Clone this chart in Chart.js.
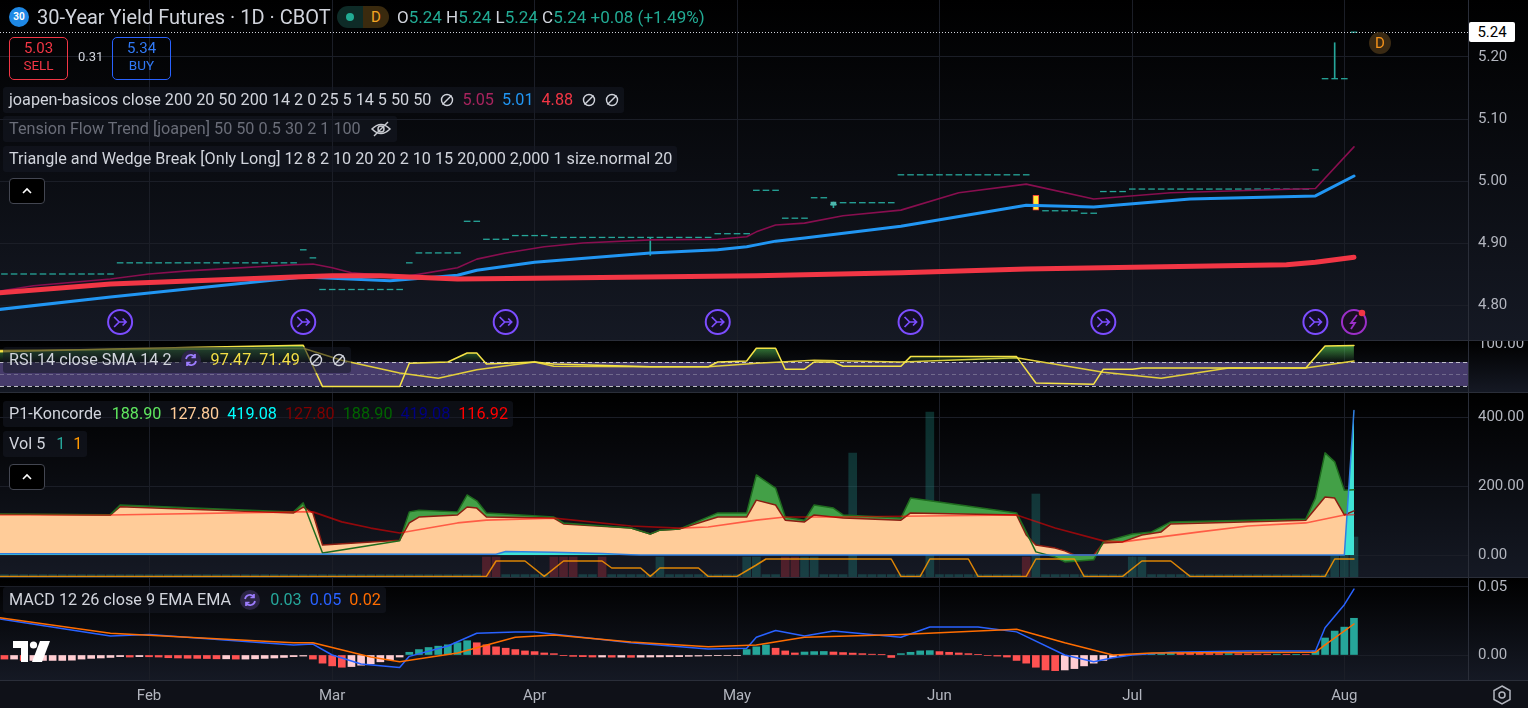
<!DOCTYPE html>
<html>
<head>
<meta charset="utf-8">
<title>30-Year Yield Futures · 1D · CBOT</title>
<script src="https://cdn.jsdelivr.net/npm/chart.js@4.4.1/dist/chart.umd.min.js"></script>
<style>
  html, body { margin: 0; padding: 0; background: #000; overflow: hidden; }
  #app { position: relative; width: 1528px; height: 708px; font-family: Roboto, "Noto Sans", sans-serif; color: #d1d4dc; }
  #app canvas { position: absolute; left: 0; }
  .sep { position: absolute; left: 0; width: 1528px; height: 1px; background: #2a2e39; }
  .abs { position: absolute; white-space: nowrap; }
  .leg { position: absolute; left: 3px; height: 26px; line-height: 26px; padding: 0 5px 0 6px; white-space: nowrap;
         font-size: 16.2px; background: rgba(22,26,37,0.55); border-radius: 3px; display: flex; align-items: center; }
  .leg span { margin-left: 8px; }
  .leg span:first-child { margin-left: 0; }
  .leg svg { margin-left: 9px; }
  .btn { position: absolute; left: 9px; width: 34px; height: 24px; border: 1px solid #434651; border-radius: 4px; background: #000;
         display: flex; align-items: center; justify-content: center; }
  .trade { position: absolute; top: 37px; width: 57px; height: 39px; border-radius: 5px; text-align: center; line-height: 17px; padding-top: 2px; }
  .trade b { display: block; font-weight: 400; font-size: 15px; }
  .trade i { display: block; font-style: normal; font-size: 13.5px; }
</style>
</head>
<body>
<div id="app">
  <canvas id="cMain" width="1528" height="340" style="top:0"></canvas>
  <div class="sep" style="top:340px"></div>
  <canvas id="cRsi" width="1528" height="51" style="top:341px"></canvas>
  <div class="sep" style="top:392px"></div>
  <canvas id="cKon" width="1528" height="184" style="top:393px"></canvas>
  <div class="sep" style="top:577px"></div>
  <canvas id="cMacd" width="1528" height="130" style="top:578px"></canvas>
  <div class="sep" style="top:680px"></div>

  <!-- header -->
  <div class="abs" style="left:9px;top:7px;width:20px;height:20px;border-radius:50%;background:#1e88e5;color:#fff;font-size:10px;font-weight:700;text-align:center;line-height:20px">30</div>
  <div class="abs" style="left:37px;top:4px;font-size:20px;line-height:26px;color:#d1d4dc">30-Year Yield Futures · 1D · CBOT</div>
  <div class="abs" style="left:337px;top:6px;width:52px;height:22px;border-radius:11px;overflow:hidden;display:flex">
    <div style="width:26px;background:#0e2b27;display:flex;align-items:center;justify-content:center"><div style="width:8px;height:8px;border-radius:50%;background:#22ab94"></div></div>
    <div style="width:26px;background:#3a2a0e;color:#f5a623;font-size:15px;line-height:22px;text-align:center">D</div>
  </div>
  <div class="abs" style="left:397px;top:4px;font-size:17px;line-height:26px;color:#d1d4dc">O<span style="color:#22ab94">5.24</span> H<span style="color:#22ab94">5.24</span> L<span style="color:#22ab94">5.24</span> C<span style="color:#22ab94">5.24</span> <span style="color:#22ab94">+0.08 (+1.49%)</span></div>

  <div class="trade" style="left:9px;border:1px solid #f23645;color:#f23645"><b>5.03</b><i>SELL</i></div>
  <div class="abs" style="left:78px;top:49px;font-size:13px;color:#d1d4dc">0.31</div>
  <div class="trade" style="left:112px;border:1px solid #2962ff;color:#3179f5"><b>5.34</b><i>BUY</i></div>

  <div class="leg" style="top:87px">
    <span>joapen-basicos close 200 20 50 200 14 2 0 25 5 14 5 50 50</span>
    <svg width="14" height="14" viewBox="0 0 14 14"><circle cx="7" cy="7" r="5.5" stroke="#d1d4dc" stroke-width="1.4" fill="none"/><line x1="2.5" y1="11.5" x2="11.5" y2="2.5" stroke="#d1d4dc" stroke-width="1.4"/></svg>
    <span style="color:#a8245e">5.05</span><span style="color:#2196f3">5.01</span><span style="color:#f23645">4.88</span>
    <svg width="14" height="14" viewBox="0 0 14 14"><circle cx="7" cy="7" r="5.5" stroke="#d1d4dc" stroke-width="1.4" fill="none"/><line x1="2.5" y1="11.5" x2="11.5" y2="2.5" stroke="#d1d4dc" stroke-width="1.4"/></svg>
    <svg width="14" height="14" viewBox="0 0 14 14"><circle cx="7" cy="7" r="5.5" stroke="#d1d4dc" stroke-width="1.4" fill="none"/><line x1="2.5" y1="11.5" x2="11.5" y2="2.5" stroke="#d1d4dc" stroke-width="1.4"/></svg>
  </div>
  <div class="leg" style="top:116px;color:#6a6d78">
    <span>Tension Flow Trend [joapen] 50 50 0.5 30 2 1 100</span>
    <svg width="22" height="18" viewBox="0 0 22 18"><path d="M2 9 Q11 0 20 9 Q11 18 2 9 Z" stroke="#c8cad0" stroke-width="1.5" fill="none"/><circle cx="11" cy="9" r="3" stroke="#c8cad0" stroke-width="1.5" fill="none"/><line x1="4" y1="16" x2="18" y2="2" stroke="#c8cad0" stroke-width="1.5"/></svg>
  </div>
  <div class="leg" style="top:146px"><span>Triangle and Wedge Break [Only Long] 12 8 2 10 20 20 2 10 15 20,000 2,000 1 size.normal 20</span></div>
  <div class="btn" style="top:178px"><svg width="12" height="8" viewBox="0 0 12 8"><path d="M2 6 L6 2 L10 6" stroke="#fff" stroke-width="1.6" fill="none"/></svg></div>

  <div class="leg" style="top:347px">
    <span>RSI 14 close SMA 14 2</span>
    <svg width="20" height="20" viewBox="0 0 20 20"><circle cx="10" cy="10" r="10" fill="#2c2546"/><path d="M5 9 A5 5 0 0 1 14 7 M14 4 V7.5 H10.5 M15 11 A5 5 0 0 1 6 13 M6 16 V12.5 H9.5" stroke="#9d7dff" stroke-width="1.7" fill="none"/></svg>
    <span style="color:#f2de45;margin-left:10px">97.47</span><span style="color:#f2de45">71.49</span>
    <svg width="14" height="14" viewBox="0 0 14 14"><circle cx="7" cy="7" r="5.5" stroke="#d1d4dc" stroke-width="1.4" fill="none"/><line x1="2.5" y1="11.5" x2="11.5" y2="2.5" stroke="#d1d4dc" stroke-width="1.4"/></svg>
    <svg width="14" height="14" viewBox="0 0 14 14"><circle cx="7" cy="7" r="5.5" stroke="#d1d4dc" stroke-width="1.4" fill="none"/><line x1="2.5" y1="11.5" x2="11.5" y2="2.5" stroke="#d1d4dc" stroke-width="1.4"/></svg>
  </div>

  <div class="leg" style="top:401px">
    <span>P1-Koncorde</span>
    <span style="color:#5fe65f;margin-left:10px">188.90</span><span style="color:#ffcc99">127.80</span><span style="color:#00ffff">419.08</span>
    <span style="color:#800000">127.80</span><span style="color:#006400">188.90</span><span style="color:#000080">419.08</span><span style="color:#ff0000">116.92</span>
  </div>
  <div class="leg" style="top:431px"><span>Vol 5</span><span style="color:#26a69a;margin-left:11px">1</span><span style="color:#ff9800">1</span></div>
  <div class="btn" style="top:464px"><svg width="12" height="8" viewBox="0 0 12 8"><path d="M2 6 L6 2 L10 6" stroke="#fff" stroke-width="1.6" fill="none"/></svg></div>

  <div class="leg" style="top:587px">
    <span>MACD 12 26 close 9 EMA EMA</span>
    <svg width="20" height="20" viewBox="0 0 20 20"><circle cx="10" cy="10" r="10" fill="#2c2546"/><path d="M5 9 A5 5 0 0 1 14 7 M14 4 V7.5 H10.5 M15 11 A5 5 0 0 1 6 13 M6 16 V12.5 H9.5" stroke="#9d7dff" stroke-width="1.7" fill="none"/></svg>
    <span style="color:#26a69a;margin-left:10px">0.03</span><span style="color:#2962ff">0.05</span><span style="color:#ff6d00">0.02</span>
  </div>

  <svg class="abs" style="left:13px;top:641px" width="38" height="21" viewBox="0 0 38 21">
    <path d="M0 0 H15 V21 H8 V7 H0 Z" fill="#fff"/><circle cx="20.5" cy="4" r="3.6" fill="#fff"/><path d="M27 0 H37 L29 21 H19 Z" fill="#fff"/>
  </svg>
  <svg class="abs" style="left:1491px;top:684px" width="22" height="22" viewBox="0 0 22 22">
    <path d="M11 2 L19 6.5 V15.5 L11 20 L3 15.5 V6.5 Z" stroke="#b2b5be" stroke-width="1.5" fill="none"/><circle cx="11" cy="11" r="3" stroke="#b2b5be" stroke-width="1.5" fill="none"/>
  </svg>

  <div id="priceTag" class="abs" style="left:1469px;width:46px;height:20px;background:#fff;color:#000;font-size:15px;line-height:20px;text-align:center;border-radius:2px">5.24</div>
  <div id="dBadge" class="abs" style="width:22px;height:22px;border-radius:50%;background:#3a2a14;color:#f7931a;font-size:15px;line-height:22px;text-align:center">D</div>
</div>

<script>
/* ---------- data ---------- */

// month labels on the time axis and the bar index of each month's first session
let months = ['Feb', 'Mar', 'Apr', 'May', 'Jun', 'Jul', 'Aug']
let monthBar = [16, 35, 56, 77, 98, 118, 140]

// daily closes, bar 0 .. 141 (bar 108 is the highlighted candle below)
let closes = [
    4.85, 4.85, 4.85, 4.85, 4.85, 4.85, 4.85, 4.85, 4.85, 4.85, 4.85, 4.85, 4.85,
    4.868, 4.868, 4.868, 4.868, 4.868, 4.868, 4.868, 4.868, 4.868, 4.868, 4.868, 4.868, 4.868, 4.868, 4.868, 4.868, 4.868, 4.868, 4.868,
    4.889, 4.876,
    4.825, 4.825, 4.825, 4.825, 4.825, 4.825, 4.825, 4.825, 4.825,
    4.868,
    4.884, 4.884, 4.884, 4.884, 4.884,
    4.935, 4.935,
    4.906, 4.906, 4.906,
    4.912, 4.912, 4.912, 4.912,
    4.909, 4.909, 4.909, 4.909, 4.909, 4.909, 4.909, 4.909, 4.909, 4.909, 4.909, 4.909, 4.909, 4.909, 4.909, 4.909, 4.909,
    4.915, 4.915, 4.915, 4.915,
    4.985, 4.985, 4.985,
    4.94, 4.94, 4.94,
    4.973, 4.973,
    4.962,
    4.965, 4.965, 4.965, 4.965, 4.965, 4.965,
    5.01, 5.01, 5.01, 5.01, 5.01, 5.01, 5.01, 5.01, 5.01, 5.01, 5.01, 5.01, 5.01, 5.01,
    null,
    4.952, 4.952, 4.952, 4.952,
    4.948, 4.948,
    4.983, 4.983, 4.983,
    4.987, 4.987, 4.987, 4.987, 4.987, 4.987, 4.987, 4.987, 4.987, 4.987, 4.987, 4.987, 4.987, 4.987, 4.987, 4.987, 4.987, 4.987, 4.987,
    5.018,
    5.165, 5.165, 5.165,
    5.24
]
// candles with a visible range: [bar, low, high]
let wicks = [[68, 4.88, 4.909], [87, 4.957, 4.966], [139, 5.165, 5.223]]
let smallBodies = [[87, 4.961, 4.966]]
let signalCandle = [[108, 4.953, 4.977]]

// moving averages of joapen-basicos as [bar, value]
let maFast = [[0, 4.821], [4, 4.831], [12, 4.842], [16, 4.85], [20, 4.855], [31, 4.865], [33, 4.866], [35, 4.86], [37, 4.852],
    [41, 4.847], [43, 4.847], [48, 4.86], [50, 4.874], [53, 4.884], [57, 4.894], [61, 4.9], [68, 4.905], [75, 4.906], [78, 4.91],
    [79, 4.918], [81, 4.929], [84, 4.932], [88, 4.944], [94, 4.953], [100, 4.981], [107, 4.995], [114, 4.971], [122, 4.981],
    [137, 4.988], [141, 5.055]]
let maMid = [[0, 4.792], [12, 4.813], [32, 4.845], [35, 4.843], [41, 4.839], [48, 4.848], [50, 4.856], [56, 4.869], [68, 4.884],
    [75, 4.889], [78, 4.894], [79, 4.897], [81, 4.903], [84, 4.908], [94, 4.927], [107, 4.961], [114, 4.958], [124, 4.971],
    [137, 4.976], [141, 5.008]]
let maSlow = [[0, 4.819], [12, 4.834], [31, 4.845], [35, 4.847], [40, 4.847], [48, 4.842], [56, 4.843], [79, 4.847], [94, 4.852],
    [107, 4.858], [134, 4.865], [137, 4.869], [141, 4.877]]

// chart event markers (bar index)
let eventBars = [13, 32, 53, 75, 95, 115, 137]
let alertBar = 141

// RSI 14 and its SMA
let rsi = [[0, 87], [12, 91.7], [32, 98], [34, 29], [42, 29], [43, 68], [47, 70], [49, 85], [50, 85], [51, 66.7], [56, 70], [58, 66.7],
    [68, 62], [74, 62], [75, 70], [78, 71.7], [79, 93], [81, 93], [82, 58], [84, 58], [85, 70], [87, 70], [88, 63], [94, 63],
    [95, 79], [106, 79], [108, 35], [114, 33], [115, 58], [118, 58], [119, 60], [136, 60], [138, 96.7], [141, 97.47]]
let rsiSma = [[0, 89], [32, 93], [36, 73], [42, 51.7], [46, 43], [50, 57], [56, 70], [58, 63], [68, 62], [74, 62], [78, 66.7],
    [79, 68], [85, 73], [94, 70], [106, 77], [115, 53], [121, 43], [128, 60], [136, 60], [141, 71.49]]

// P1-Koncorde
let koncVerde = [[0, 119], [12, 117], [13, 145], [31, 125], [32, 151], [34, 6], [42, 41], [43, 125], [44, 130], [48, 125], [49, 174],
    [50, 157], [51, 122], [58, 110], [59, 93], [66, 78], [68, 61], [69, 72], [71, 75], [75, 122], [78, 122], [79, 232], [81, 194],
    [82, 110], [84, 101], [85, 145], [87, 136], [88, 116], [94, 107], [95, 165], [106, 122], [107, 67], [108, 9], [110, -6],
    [111, -20], [114, -14], [115, 38], [118, 61], [120, 67], [122, 96], [136, 104], [137, 165], [138, 296], [139, 270], [140, 188],
    [141, 188.9]]
let koncMarron = [[0, 119], [12, 116], [13, 140], [31, 122], [32, 139], [33, 122], [34, 29], [42, 43], [43, 93], [44, 110], [48, 116],
    [49, 139], [50, 136], [51, 110], [58, 107], [59, 90], [66, 78], [68, 61], [69, 72], [71, 75], [75, 110], [78, 110], [79, 159],
    [81, 145], [82, 101], [84, 96], [85, 116], [87, 110], [88, 107], [94, 101], [95, 122], [106, 116], [107, 58], [108, 29],
    [110, 20], [111, 12], [112, 0], [114, 0], [115, 35], [117, 38], [119, 58], [121, 67], [122, 90], [136, 101], [138, 168],
    [139, 165], [140, 116], [141, 127.8]]
let koncAzul = [[0, 4], [50, 2], [52, 2], [53, 10], [58, 8], [63, 4], [66, 1], [67, 0], [140, 0], [141, 419.08]]
let koncMedia = [[0, 116], [12, 116], [31, 125], [33, 125], [36, 96], [39, 78], [42, 64], [48, 93], [51, 101], [58, 107], [66, 84],
    [71, 78], [74, 81], [79, 101], [82, 110], [87, 110], [106, 116], [110, 78], [115, 41], [117, 38], [120, 49], [125, 67],
    [130, 84], [136, 93], [140, 116], [141, 116.92]]

// Vol 5: per-bar volume, down days, and its moving average
let volume = [
    0.12, 0.12, 0.12, 0.12, 0.12, 0.12, 0.12, 0.12, 0.12, 0.12, 0.12, 0.12, 0.12, 0.12, 0.12, 0.12, 0.12,
    0.12, 0.12, 0.12, 0.12, 0.12, 0.12, 0.12, 0.12, 0.12, 0.12, 0.12, 0.12, 0.12, 0.12, 0.12, 0.12, 0.12,
    0.12, 0.12, 0.12, 0.12, 0.12, 0.12, 0.12, 0.12, 0.12, 0.12, 0.12, 0.12, 0.12, 0.12, 0.12, 0.12, 0.12,
    1, 1,
    0.12, 0.12, 0.12, 0.12, 0.12,
    1, 1, 1,
    0.12, 0.12,
    1,
    0.12, 0.12, 0.12, 0.12, 0.12,
    1,
    0.12, 0.12, 0.12, 0.12, 0.12, 0.12, 0.12, 0.12,
    1, 1,
    0.12, 0.12,
    1, 1, 1, 1,
    0.12, 0.12, 0.12,
    6.2,
    0.12, 0.12, 0.12, 0.12, 0.12, 0.12, 0.12,
    8.25,
    0.12, 0.12, 0.12, 0.12, 0.12, 0.12, 0.12, 0.12, 0.12,
    1,
    4.15,
    0.12, 0.12, 0.12, 0.12, 0.12, 0.12, 0.12, 0.12, 0.12,
    1, 1,
    0.12, 0.12, 0.12, 0.12, 0.12, 0.12, 0.12, 0.12, 0.12, 0.12, 0.12, 0.12, 0.12, 0.12, 0.12, 0.12, 0.12, 0.12, 0.12,
    4, 4, 2
]
let volDownBars = [51, 52, 58, 59, 60, 63, 82, 83, 107]
let volMa = [[0, 0.03], [51, 0.03], [52, 0.8], [55, 0.8], [57, 0.03], [59, 0.8], [63, 0.8], [64, 0.45], [67, 0.45], [68, 0.03],
    [69, 0.45], [73, 0.45], [74, 0.03], [77, 0.03], [79, 0.6], [80, 0.9], [93, 0.9], [94, 0.03], [96, 0.03], [97, 0.9],
    [101, 0.9], [102, 0.03], [107, 0.03], [108, 0.9], [112, 0.9], [113, 0.03], [117, 0.03], [119, 0.8], [122, 0.8],
    [124, 0.03], [138, 0.03], [139, 0.9], [141, 0.9]]

// MACD 12 26 9
let macdHist = [
    -0.002, -0.003, -0.003, -0.004, -0.004, -0.004, -0.004, -0.004, -0.0038, -0.003,
    -0.0025, -0.0022, -0.0018, -0.0012, -0.0015, -0.0012, -0.0013, -0.0015, -0.002, -0.0022,
    -0.0024, -0.0025, -0.0026, -0.0028, -0.0028, -0.003, -0.003, -0.0028, -0.0025, -0.0022,
    -0.0018, -0.0012, -0.0008, -0.003, -0.006, -0.008, -0.009, -0.0085, -0.0075, -0.0065,
    -0.005, -0.0035, -0.0015, 0.002, 0.004, 0.0055, 0.0065, 0.0075, 0.009, 0.0105,
    0.009, 0.0075, 0.006, 0.005, 0.004, 0.003, 0.0025, 0.0015, 0.001, -0.0005,
    -0.001, -0.0012, -0.0015, -0.0015, -0.0016, -0.0016, -0.0017, -0.0016, -0.0015, -0.0014,
    -0.0013, -0.0012, -0.001, -0.0008, -0.0006, -0.0005, -0.0004, -0.0003, 0.004, 0.006,
    0.0074, 0.005, 0.003, 0.0015, 0.0022, 0.0025, 0.0026, 0.0022, 0.0018, 0.0014,
    0.001, 0.0006, 0.0002, -0.0018, 0.001, 0.002, 0.003, 0.0032, 0.0025, 0.002,
    0.0015, 0.001, 0.0005, -0.0004, -0.0008, -0.0015, -0.004, -0.006, -0.009, -0.011,
    -0.0115, -0.011, -0.01, -0.008, -0.006, -0.004, -0.002, -0.0005, 0.0005, 0.0008,
    0.001, 0.0012, 0.0015, 0.0014, 0.0013, 0.0012, 0.0011, 0.001, 0.001, 0.0009,
    0.0008, 0.0007, 0.0006, 0.0006, 0.0005, 0.0005, 0.0004, 0.003, 0.0125, 0.0176,
    0.0205, 0.027
]
let macdLine = [[0, 0.027], [12, 0.014], [16, 0.015], [31, 0.0074], [33, 0.008], [35, 0], [38, -0.0066], [42, -0.0092], [43, -0.001],
    [47, 0.0066], [50, 0.016], [54, 0.017], [56, 0.017], [66, 0.009], [74, 0.0044], [78, 0.005], [79, 0.013], [81, 0.018],
    [84, 0.014], [87, 0.0176], [94, 0.013], [97, 0.0206], [102, 0.0206], [106, 0.017], [111, 0], [114, -0.005], [116, -0.002],
    [118, 0], [122, 0.002], [130, 0.003], [137, 0.003], [138, 0.02], [140, 0.037], [141, 0.0485]]
let macdSignal = [[0, 0.028], [12, 0.016], [31, 0.009], [33, 0.009], [39, -0.0015], [42, -0.005], [48, 0.0015], [54, 0.013],
    [58, 0.0147], [66, 0.0096], [74, 0.006], [79, 0.0074], [84, 0.013], [94, 0.015], [106, 0.019], [111, 0.009], [116, 0],
    [120, 0.0015], [137, 0.002], [138, 0.0074], [141, 0.0228]]

// axis ticks
let priceTicks = [4.8, 4.9, 5.0, 5.1, 5.2]
let rsiTicks = [100]
let koncTicks = [0, 200, 400]
let macdTicks = [0, 0.05]


/* ---------- helpers ---------- */
Chart.defaults.font.family = 'Roboto, "Noto Sans", sans-serif'

let viewFrom = 0.54   // visible bar window of the time axis
let viewTo = 152.83

let pairs = list => list.map(p => ({ x: p[0], y: p[1] }))
let perBar = list => list.map((v, i) => ({ x: i, y: v }))
let ranges = list => list.map(p => ({ x: p[0], y: [p[1], p[2]] }))

function timeAxis(showLabels) {
    return {
        type: 'linear', min: viewFrom, max: viewTo, offset: false,
        grid: { color: '#1b1e27', drawTicks: false, offset: false },
        border: { display: false },
        ticks: {
            display: showLabels, autoSkip: false, maxRotation: 0, padding: 7,
            color: '#b2b5be', font: { size: 15 },
            callback: v => months[monthBar.indexOf(v)] || ''
        },
        afterBuildTicks: s => { s.ticks = monthBar.map(v => ({ value: v })) },
        afterFit: s => { s.height = showLabels ? 28 : 0; s.paddingLeft = 0; s.paddingRight = 0 }
    }
}

function valueAxis(min, max, ticks, showGrid) {
    return {
        type: 'linear', position: 'right', min: min, max: max,
        grid: { display: showGrid, color: '#1b1e27', drawTicks: false },
        border: { display: true, color: '#2a2e39' },
        ticks: { color: '#b2b5be', font: { size: 15 }, padding: 10, callback: v => v.toFixed(2) },
        afterBuildTicks: s => { s.ticks = ticks.map(v => ({ value: v })) },
        afterFit: s => { s.width = 60; s.paddingTop = 0; s.paddingBottom = 0 }
    }
}

function lineSet(data, color, width, order, extra) {
    return Object.assign({
        type: 'line', data: data, borderColor: color, borderWidth: width, pointRadius: 0,
        tension: 0, fill: false, order: order, borderJoinStyle: 'round', borderCapStyle: 'round'
    }, extra || {})
}

function barSet(data, color, thickness, order, extra) {
    return Object.assign({
        type: 'bar', data: data, backgroundColor: color, barThickness: thickness,
        grouped: false, order: order
    }, extra || {})
}

// dark pane background, fading from black at the top
let paneBackground = {
    id: 'paneBackground',
    beforeDraw(chart) {
        let ctx = chart.ctx
        let area = chart.chartArea
        let grad = ctx.createLinearGradient(0, area.top, 0, area.bottom)
        grad.addColorStop(0, '#000000')
        grad.addColorStop(1, '#151924')
        ctx.save()
        ctx.fillStyle = '#0f1118'
        ctx.fillRect(0, 0, chart.width, chart.height)
        ctx.fillStyle = grad
        ctx.fillRect(0, area.top, chart.width, area.bottom - area.top)
        ctx.restore()
    }
}

function options(scales) {
    return {
        responsive: false, animation: false, devicePixelRatio: 1, events: [],
        layout: { padding: 0, autoPadding: false },
        plugins: { legend: { display: false }, tooltip: { enabled: false }, filler: { drawTime: 'beforeDatasetDraw' } },
        scales: scales
    }
}


/* ---------- main price pane ---------- */
function drawEventIcon(ctx, x, y) {
    ctx.save()
    ctx.beginPath()
    ctx.arc(x, y, 12, 0, Math.PI * 2)
    ctx.fillStyle = '#130f26'
    ctx.fill()
    ctx.lineWidth = 2
    ctx.strokeStyle = '#7c4dff'
    ctx.stroke()
    ctx.beginPath()
    ctx.moveTo(x - 6, y - 5); ctx.lineTo(x - 1, y); ctx.lineTo(x - 6, y + 5)
    ctx.moveTo(x - 1, y); ctx.lineTo(x + 6, y)
    ctx.moveTo(x + 2.5, y - 3.5); ctx.lineTo(x + 6, y); ctx.lineTo(x + 2.5, y + 3.5)
    ctx.lineWidth = 1.7
    ctx.stroke()
    ctx.restore()
}

function drawAlertIcon(ctx, x, y) {
    ctx.save()
    ctx.beginPath()
    ctx.arc(x, y, 12, 0, Math.PI * 2)
    ctx.fillStyle = '#1a0f22'
    ctx.fill()
    ctx.lineWidth = 2
    ctx.strokeStyle = '#9c2fc9'
    ctx.stroke()
    ctx.beginPath()
    ctx.moveTo(x + 3, y - 7); ctx.lineTo(x - 3, y + 1); ctx.lineTo(x + 1, y + 1); ctx.lineTo(x - 3, y + 7)
    ctx.lineWidth = 1.8
    ctx.stroke()
    ctx.beginPath()
    ctx.arc(x + 8, y - 9, 3.3, 0, Math.PI * 2)
    ctx.fillStyle = '#f23645'
    ctx.fill()
    ctx.restore()
}

let mainDecor = {
    id: 'mainDecor',
    afterDatasetsDraw(chart) {
        let ctx = chart.ctx
        let area = chart.chartArea
        let xs = chart.scales.x
        let ys = chart.scales.y
        // last price line
        let last = closes[closes.length - 1]
        let py = Math.round(ys.getPixelForValue(last)) + 0.5
        ctx.save()
        ctx.strokeStyle = '#d1d4dc'
        ctx.lineWidth = 1
        ctx.setLineDash([1, 2])
        ctx.beginPath()
        ctx.moveTo(area.left, py)
        ctx.lineTo(area.right, py)
        ctx.stroke()
        ctx.restore()
        // events along the bottom of the pane
        let ey = area.bottom - 18
        eventBars.forEach(b => drawEventIcon(ctx, xs.getPixelForValue(b), ey))
        drawAlertIcon(ctx, xs.getPixelForValue(alertBar), ey)
    }
}

let mainChart = new Chart(document.querySelector('#cMain'), {
    type: 'line',
    data: {
        datasets: [
            lineSet(pairs(maSlow), '#f23645', 5, 1),
            lineSet(pairs(maMid), '#2196f3', 3, 2),
            lineSet(pairs(maFast), '#880e4f', 1.6, 3),
            barSet(ranges(signalCandle), '#ffeb3b', 6, 4, { borderColor: '#f44336', borderWidth: 1, borderSkipped: false }),
            barSet(ranges(smallBodies), '#4db6ac', 5, 5),
            barSet(ranges(wicks), '#26a69a', 1, 6),
            {
                type: 'line', data: perBar(closes), showLine: false, order: 7,
                pointStyle: 'line', pointRadius: 3.3, pointBorderWidth: 1.3,
                pointBorderColor: '#26a69a', pointBackgroundColor: '#26a69a'
            }
        ]
    },
    options: options({
        x: timeAxis(false),
        y: valueAxis(5.2 - 283 / 620, 5.2 + 57 / 620, priceTicks, true)
    }),
    plugins: [paneBackground, mainDecor]
})


/* ---------- RSI pane ---------- */
let rsiBand = {
    id: 'rsiBand',
    beforeDatasetsDraw(chart) {
        let ctx = chart.ctx
        let area = chart.chartArea
        let ys = chart.scales.y
        let top = ys.getPixelForValue(70)
        let bottom = ys.getPixelForValue(30)
        ctx.save()
        ctx.fillStyle = '#463b6b'
        ctx.fillRect(area.left, top, area.right - area.left, bottom - top)
        ctx.lineWidth = 1
        ctx.setLineDash([4, 3])
        ;[[70, 'rgba(215,215,222,0.85)'], [50, 'rgba(215,215,222,0.3)'], [30, 'rgba(215,215,222,0.85)']].forEach(l => {
            let y = Math.round(ys.getPixelForValue(l[0])) + 0.5
            ctx.strokeStyle = l[1]
            ctx.beginPath()
            ctx.moveTo(area.left, y)
            ctx.lineTo(area.right, y)
            ctx.stroke()
        })
        ctx.restore()
    }
}

let rsiChart = new Chart(document.querySelector('#cRsi'), {
    type: 'line',
    data: {
        datasets: [
            lineSet(pairs(rsi), '#f5e346', 1.5, 1, {
                fill: { target: { value: 70 }, above: 'rgba(76,175,80,0.5)', below: 'rgba(0,0,0,0)' }
            }),
            lineSet(pairs(rsiSma), '#e3cf3c', 1.5, 2)
        ]
    },
    options: options({
        x: timeAxis(false),
        y: valueAxis(100 - 48 / 0.6, 100 + 3 / 0.6, rsiTicks, false)
    }),
    plugins: [paneBackground, rsiBand]
})
// overbought fill fades from green at 100 to nothing at 70
let rsiY = rsiChart.scales.y
let obFill = rsiChart.ctx.createLinearGradient(0, rsiY.getPixelForValue(100), 0, rsiY.getPixelForValue(70))
obFill.addColorStop(0, 'rgba(76,175,80,0.85)')
obFill.addColorStop(1, 'rgba(76,175,80,0.02)')
rsiChart.data.datasets[0].fill.above = obFill
rsiChart.update()


/* ---------- Koncorde + volume pane ---------- */
let volColors = volume.map((v, i) => volDownBars.includes(i) ? 'rgba(242,54,69,0.27)' : 'rgba(38,166,154,0.27)')

let koncChart = new Chart(document.querySelector('#cKon'), {
    type: 'line',
    data: {
        datasets: [
            lineSet(pairs(volMa), 'rgba(255,152,0,0.85)', 1.5, 1, { yAxisID: 'yv' }),
            lineSet(pairs(koncMedia), 'rgba(255,0,0,0.55)', 1.6, 2),
            lineSet(pairs(koncAzul), '#2f7fe0', 1.5, 3),
            lineSet(pairs(koncVerde), '#1f6b1f', 1.5, 4),
            lineSet(pairs(koncMarron), '#8a1c12', 1.5, 5),
            lineSet(pairs(koncAzul), 'rgba(0,0,0,0)', 0, 6, { fill: 'origin', backgroundColor: '#3fe3d6' }),
            lineSet(pairs(koncMarron), 'rgba(0,0,0,0)', 0, 7, { fill: 'origin', backgroundColor: '#ffcc99' }),
            lineSet(pairs(koncVerde), 'rgba(0,0,0,0)', 0, 8, { fill: 'origin', backgroundColor: '#43a047' }),
            barSet(perBar(volume), volColors, 8, 9, { yAxisID: 'yv' })
        ]
    },
    options: options({
        x: timeAxis(false),
        y: valueAxis(-22 / 0.345, 400 + 24 / 0.345, koncTicks, true),
        yv: { type: 'linear', display: false, min: 0, max: 184 / 20 }
    }),
    plugins: [paneBackground]
})


/* ---------- MACD pane ---------- */
let histColors = macdHist.map((h, i) => {
    let prev = i > 0 ? macdHist[i - 1] : h
    if (h >= 0) return h >= prev ? '#26a69a' : '#ff5252'
    return h < prev ? '#ff5252' : '#ffcdd2'
})

let macdChart = new Chart(document.querySelector('#cMacd'), {
    type: 'line',
    data: {
        datasets: [
            lineSet(pairs(macdSignal), '#ff6d00', 1.5, 1),
            lineSet(pairs(macdLine), '#2962ff', 1.5, 2),
            barSet(perBar(macdHist), histColors, 7, 3)
        ]
    },
    options: options({
        x: timeAxis(true),
        y: valueAxis(-25 / 1360, 0.05 + 9 / 1360, macdTicks, true)
    }),
    plugins: [paneBackground]
})


/* ---------- overlays placed from the price scale ---------- */
let lastBar = closes.length - 1
let lastY = mainChart.scales.y.getPixelForValue(closes[lastBar])
let priceTag = document.querySelector('#priceTag')
priceTag.style.top = (lastY - 10) + 'px'
let dBadge = document.querySelector('#dBadge')
dBadge.style.left = (mainChart.scales.x.getPixelForValue(lastBar) + 15) + 'px'
dBadge.style.top = (lastY + 0) + 'px'
</script>
</body>
</html>
